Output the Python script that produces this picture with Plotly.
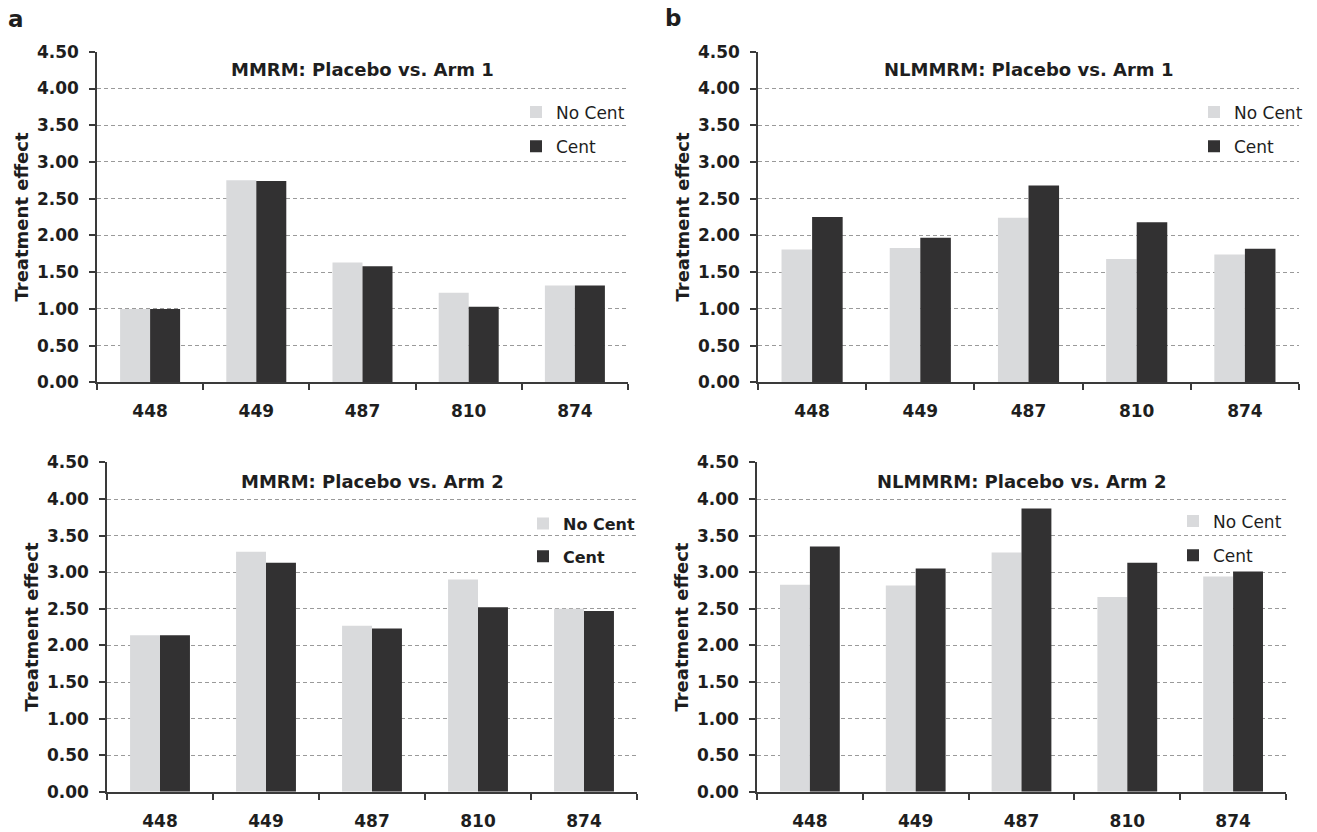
import plotly.graph_objects as go

categories = ["448", "449", "487", "810", "874"]
series_names = ["No Cent", "Cent"]

mmrm_arm1_nocent = [1.00, 2.75, 1.63, 1.22, 1.32]
mmrm_arm1_cent = [1.00, 2.74, 1.58, 1.03, 1.32]
nlmmrm_arm1_nocent = [1.81, 1.83, 2.24, 1.68, 1.74]
nlmmrm_arm1_cent = [2.25, 1.97, 2.68, 2.18, 1.82]
mmrm_arm2_nocent = [2.14, 3.28, 2.27, 2.90, 2.50]
mmrm_arm2_cent = [2.14, 3.13, 2.23, 2.52, 2.47]
nlmmrm_arm2_nocent = [2.83, 2.82, 3.27, 2.66, 2.94]
nlmmrm_arm2_cent = [3.35, 3.05, 3.87, 3.13, 3.01]

titles = ["MMRM: Placebo vs. Arm 1", "NLMMRM: Placebo vs. Arm 1",
          "MMRM: Placebo vs. Arm 2", "NLMMRM: Placebo vs. Arm 2"]
y_ticks = [0, 0.5, 1, 1.5, 2, 2.5, 3, 3.5, 4, 4.5]
y_tick_labels = ["0.00", "0.50", "1.00", "1.50", "2.00", "2.50", "3.00", "3.50", "4.00", "4.50"]

W, H = 1317, 832
FONT = "DejaVu Sans"
LIGHT = "#d9dadc"
DARK = "#323132"
TXT = "#1e1e1e"

panels = [
    dict(vals=(mmrm_arm1_nocent, mmrm_arm1_cent), x=(97, 628), y=(42.7, 381.5), title_y=61.1,
         leg=(516, 86.6), bold=False, ls=17),
    dict(vals=(nlmmrm_arm1_nocent, nlmmrm_arm1_cent), x=(758, 1299), y=(42.7, 381.5), title_y=61.1,
         leg=(1194, 86.6), bold=False, ls=17),
    dict(vals=(mmrm_arm2_nocent, mmrm_arm2_cent), x=(107, 637), y=(463.4, 801.1), title_y=482.8,
         leg=(523, 508.8), bold=True, ls=16),
    dict(vals=(nlmmrm_arm2_nocent, nlmmrm_arm2_cent), x=(757, 1286), y=(463.4, 801.1), title_y=482.8,
         leg=(1173, 505.7), bold=False, ls=17),
]

fig = go.Figure()
layout = dict(width=W, height=H, margin=dict(l=0, r=0, t=0, b=0), autosize=False,
              paper_bgcolor="white", plot_bgcolor="white", barmode="group",
              bargap=0.435, bargroupgap=0, font=dict(family=FONT, color=TXT))
annotations = []

for i, p in enumerate(panels):
    n = "" if i == 0 else str(i + 1)
    xa, ya = "x" + n, "y" + n
    legname = "legend" + n
    for s, (name, color) in enumerate(zip(series_names, [LIGHT, DARK])):
        fig.add_trace(go.Bar(x=categories, y=p["vals"][s], name=name, marker=dict(color=color, line=dict(width=0)),
                             xaxis=xa, yaxis=ya, legend=legname, legendgroup=f"g{i}{s}",
                             offsetgroup=str(s)))
    xd = [p["x"][0] / W, p["x"][1] / W]
    yd = [1 - p["y"][1] / H, 1 - p["y"][0] / H]
    layout["xaxis" + n] = dict(domain=xd, anchor=ya, type="category", showline=True, linecolor="#3a3a3a",
                               linewidth=1.5, ticks="outside", tickson="boundaries", ticklen=6,
                               tickcolor="#3a3a3a", tickwidth=1.5, showgrid=False, ticklabelstandoff=13,
                               tickfont=dict(family=FONT, size=17, weight="bold", color=TXT))
    layout["yaxis" + n] = dict(domain=yd, anchor=xa, range=[0, 4.502], tickvals=y_ticks, ticktext=y_tick_labels,
                               showline=True, linecolor="#3a3a3a", linewidth=1.5, ticks="outside", ticklen=6,
                               tickcolor="#3a3a3a", tickwidth=1.5, showgrid=True, gridcolor="#9a9a9a",
                               gridwidth=1, griddash="4px,3px", zeroline=False, ticklabelstandoff=7,
                               tickfont=dict(family=FONT, size=17, weight="bold", color=TXT),
                               title=dict(text="Treatment effect", standoff=4,
                                          font=dict(family=FONT, size=18, weight="bold", color=TXT)))
    layout[legname] = dict(x=p["leg"][0] / W, y=1 - p["leg"][1] / H, xanchor="left", yanchor="top",
                           bgcolor="rgba(0,0,0,0)", traceorder="grouped", tracegroupgap=9,
                           itemwidth=30,
                           font=dict(family=FONT, size=p["ls"], color=TXT,
                                     weight="bold" if p["bold"] else "normal"))
    annotations.append(dict(text=titles[i], xref=xa + " domain", x=0.5, yref="paper",
                            y=1 - p["title_y"] / H, xanchor="center", yanchor="middle", showarrow=False,
                            font=dict(family=FONT, size=18, weight="bold", color=TXT)))

annotations.append(dict(text="a", xref="paper", yref="paper", x=16 / W, y=1 - 9.5 / H, xanchor="center",
                        yanchor="middle", showarrow=False, font=dict(family=FONT, size=23, weight="bold", color=TXT)))
annotations.append(dict(text="b", xref="paper", yref="paper", x=673 / W, y=1 - 8.5 / H, xanchor="center",
                        yanchor="middle", showarrow=False, font=dict(family=FONT, size=23, weight="bold", color=TXT)))
layout["annotations"] = annotations
fig.update_layout(**layout)

post = ("var gd=document.getElementById('{plot_id}');gd.style.position='fixed';gd.style.left='0px';"
        "gd.style.top='0px';document.body.style.margin='0';document.body.style.overflow='hidden';")
fig.write_html("out.html", config={"displayModeBar": False}, post_script=post)
